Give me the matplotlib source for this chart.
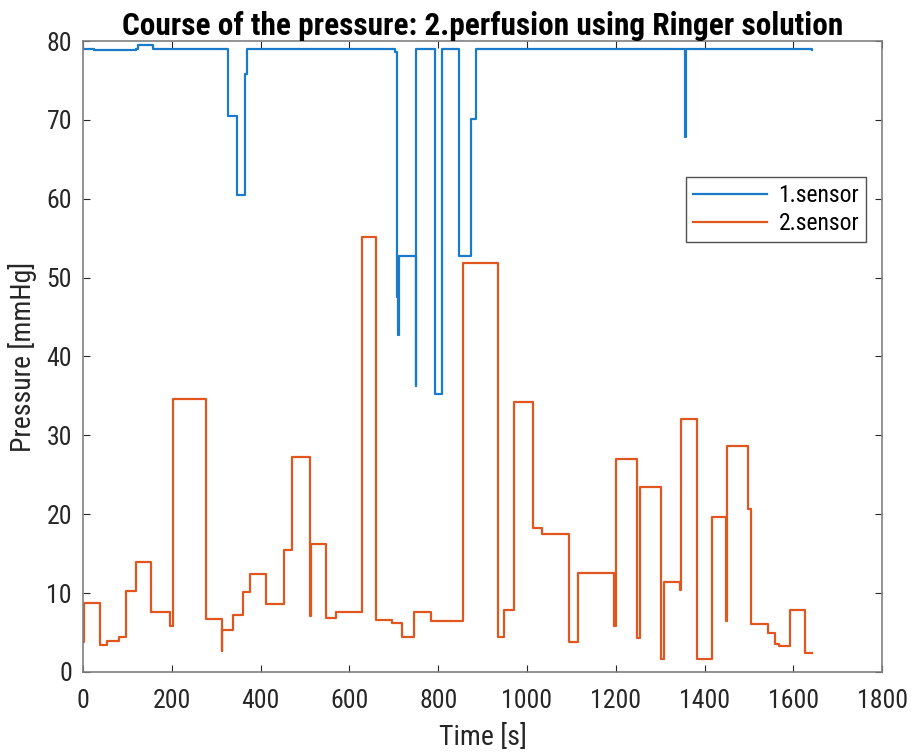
import matplotlib
matplotlib.use("Agg")
import matplotlib.pyplot as plt

# sensor 1 (step changes: time [s], pressure [mmHg])
t_sensor1 = [0, 25, 120, 124, 158, 327, 347, 364, 369, 702, 707, 709, 712,
             749, 751, 794, 808, 847, 873, 886, 1355, 1358, 1643]
p_sensor1 = [79.0, 78.8, 79.0, 79.5, 79.0, 70.5, 60.5, 75.8, 79.0, 78.6, 47.5,
             42.7, 52.8, 36.3, 79.0, 35.3, 79.0, 52.8, 70.1, 79.0, 67.8, 79.0,
             78.9]

# sensor 2
t_sensor2 = [0, 3, 38, 53, 82, 98, 119, 153, 196, 203, 278, 312, 314, 338,
             361, 377, 413, 453, 471, 512, 514, 547, 569, 628, 659, 696, 719,
             745, 784, 856, 934, 949, 970, 1013, 1033, 1094, 1114, 1197, 1200,
             1248, 1254, 1302, 1309, 1345, 1347, 1382, 1417, 1448, 1450, 1497,
             1504, 1542, 1559, 1568, 1593, 1627, 1643]
p_sensor2 = [3.8, 8.7, 3.4, 3.9, 4.4, 10.3, 13.9, 7.6, 5.8, 34.6, 6.7, 2.6,
             5.3, 7.2, 10.2, 12.4, 8.6, 15.5, 27.3, 7.1, 16.2, 6.8, 7.6, 55.2,
             6.6, 6.2, 4.4, 7.6, 6.4, 51.8, 4.4, 7.9, 34.2, 18.3, 17.5, 3.8,
             12.6, 5.8, 27.0, 4.3, 23.5, 1.6, 11.4, 10.4, 32.1, 1.6, 19.7, 6.4,
             28.6, 20.7, 6.1, 4.9, 3.6, 3.3, 7.9, 2.4, 2.4]

plt.rcParams["font.family"] = ["Roboto Condensed", "Liberation Sans", "DejaVu Sans"]

fig = plt.figure(figsize=(9.16, 7.54), dpi=100)
ax = fig.add_axes([0.0906, 0.1088, 0.8724, 0.8368])

ax.plot(t_sensor1, p_sensor1, drawstyle="steps-post", color="#1A7BCB",
        lw=1.6, label="1.sensor")
ax.plot(t_sensor2, p_sensor2, drawstyle="steps-post", color="#E0561E",
        lw=1.6, label="2.sensor")

ax.set_xlim(0, 1800)
ax.set_ylim(0, 80)
ax.set_xticks(range(0, 1801, 200))
ax.set_yticks(range(0, 81, 10))
ax.tick_params(direction="in", top=True, right=True, length=5,
               labelsize=18.5, colors="#262626")
ax.tick_params(axis="x", pad=12)
ax.tick_params(axis="y", pad=8)
for s in ax.spines.values():
    s.set_color("#808080")
    s.set_linewidth(1.2)

ax.set_title("Course of the pressure: 2.perfusion using Ringer solution",
             fontsize=22.5, fontweight="bold", pad=4)
ax.set_xlabel("Time [s]", fontsize=20, color="#262626", labelpad=8)
ax.set_ylabel("Pressure [mmHg]", fontsize=20, color="#262626", labelpad=7)

leg = ax.legend(loc="upper right", bbox_to_anchor=(0.98, 0.784), fontsize=17,
                frameon=True, fancybox=False, handlelength=3.1,
                handletextpad=0.5, borderpad=0.3, labelspacing=0.2,
                borderaxespad=0)
leg.get_frame().set_edgecolor("#262626")
leg.get_frame().set_linewidth(1.0)

fig.savefig("out.png", dpi=100)
